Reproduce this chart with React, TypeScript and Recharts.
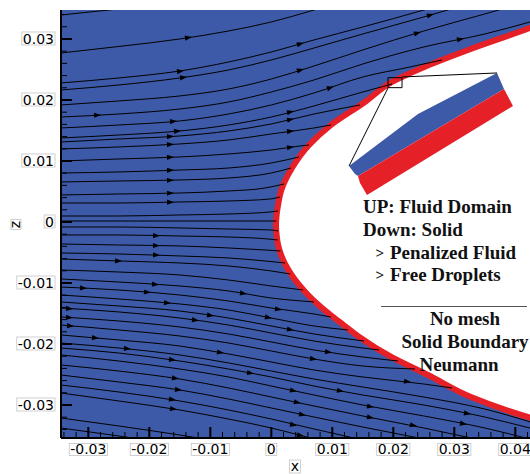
import React from 'react';
import { ComposedChart, Scatter, XAxis, YAxis, CartesianGrid } from 'recharts';

const BLUE = '#3d5aa8';
const RED = '#e62027';

const X_DOMAIN: [number, number] = [-0.03448, 0.04241];
const Z_DOMAIN: [number, number] = [-0.03541, 0.03475];

const xMajorTicks = [-0.03, -0.02, -0.01, 0, 0.01, 0.02, 0.03, 0.04];
const xTickLabels = ['-0.03', '-0.02', '-0.01', '0', '0.01', '0.02', '0.03', '0.04'];
const xAllTicks = [
  -0.034, -0.032, -0.03, -0.028, -0.026, -0.024, -0.022, -0.02, -0.018, -0.016, -0.014, -0.012, -0.01,
  -0.008, -0.006, -0.004, -0.002, 0, 0.002, 0.004, 0.006, 0.008, 0.01, 0.012, 0.014, 0.016, 0.018, 0.02,
  0.022, 0.024, 0.026, 0.028, 0.03, 0.032, 0.034, 0.036, 0.038, 0.04, 0.042,
];
const zMajorTicks = [-0.03, -0.02, -0.01, 0, 0.01, 0.02, 0.03];
const zTickLabels = ['-0.03', '-0.02', '-0.01', '0', '0.01', '0.02', '0.03'];
const zAllTicks = [
  -0.034, -0.032, -0.03, -0.028, -0.026, -0.024, -0.022, -0.02, -0.018, -0.016, -0.014, -0.012, -0.01,
  -0.008, -0.006, -0.004, -0.002, 0, 0.002, 0.004, 0.006, 0.008, 0.01, 0.012, 0.014, 0.016, 0.018, 0.02,
  0.022, 0.024, 0.026, 0.028, 0.03, 0.032, 0.034,
];

type P = [number, number];

// body surface (centre of the red layer), top to bottom
const bodyOutline: P[] = [
  [0.04487, 0.03279], [0.04257, 0.03189], [0.03225, 0.0282], [0.0247, 0.02525], [0.01979, 0.02295],
  [0.01536, 0.01967], [0.00979, 0.0159], [0.00618, 0.01262], [0.00339, 0.00885], [0.00159, 0.00508],
  [0.00111, 0.00279], [0.00087, 0.00115], [0.00077, -0.00049], [0.00087, -0.00213], [0.00111, -0.00377],
  [0.00161, -0.00541], [0.00234, -0.00705], [0.00333, -0.00869], [0.00456, -0.01033], [0.00603, -0.01197],
  [0.00775, -0.01361], [0.00972, -0.01525], [0.01185, -0.01689], [0.01441, -0.01885], [0.01966, -0.02213],
  [0.02569, -0.02508], [0.03274, -0.02869], [0.04257, -0.03213], [0.04487, -0.03279],
];

const upperTrajectories: P[][] = [
  [[-0.0345, 0.03393], [-0.025, 0.03492], [-0.015, 0.0359]],
  [[-0.0345, 0.0277], [-0.025, 0.02877], [-0.015, 0.03], [-0.007, 0.03131], [0, 0.03279], [0.007, 0.03475], [0.015, 0.03721]],
  [[-0.0345, 0.02279], [-0.025, 0.02361], [-0.015, 0.02475], [-0.007, 0.02623], [0, 0.02787], [0.007, 0.02984], [0.015, 0.03197], [0.025, 0.03475], [0.035, 0.0377]],
  [[-0.0345, 0.02164], [-0.025, 0.02246], [-0.015, 0.02361], [-0.007, 0.02492], [0, 0.02656], [0.007, 0.02852], [0.015, 0.03082], [0.025, 0.03361], [0.035, 0.03656]],
  [[-0.0345, 0.01918], [-0.025, 0.01984], [-0.015, 0.02066], [-0.007, 0.0218], [0, 0.02344], [0.007, 0.02557], [0.015, 0.0282], [0.025, 0.03131], [0.035, 0.0341], [0.043, 0.03639]],
  [[-0.0345, 0.01721], [-0.025, 0.0177], [-0.015, 0.01852], [-0.007, 0.01967], [0, 0.02131], [0.007, 0.02328], [0.015, 0.0259], [0.025, 0.02869], [0.035, 0.03082], [0.043, 0.03295]],
  [[-0.0345, 0.01541], [-0.025, 0.0159], [-0.015, 0.01656], [-0.007, 0.0177], [0, 0.01918], [0.007, 0.02115], [0.015, 0.02377], [0.02274, 0.02541], [0.02798, 0.02656]],
  [[-0.0345, 0.01377], [-0.025, 0.01426], [-0.015, 0.01492], [-0.007, 0.0159], [0, 0.01721], [0.007, 0.01902], [0.015, 0.02131], [0.01979, 0.02262]],
  [[-0.0345, 0.01311], [-0.025, 0.01361], [-0.015, 0.0141], [-0.007, 0.01492], [0, 0.01607], [0.007, 0.0177], [0.01454, 0.01918]],
  [[-0.0345, 0.01197], [-0.025, 0.0123], [-0.015, 0.01279], [-0.007, 0.01344], [0, 0.01443], [0.007, 0.01541], [0.00979, 0.0159]],
  [[-0.0345, 0.01], [-0.025, 0.01033], [-0.015, 0.01066], [-0.007, 0.01115], [0, 0.0118], [0.0047, 0.01246], [0.00618, 0.01262]],
  [[-0.0345, 0.00803], [-0.025, 0.0082], [-0.015, 0.00852], [-0.007, 0.00885], [0, 0.00967], [0.00454, 0.01066]],
  [[-0.0345, 0.00656], [-0.025, 0.00672], [-0.015, 0.00689], [-0.007, 0.00721], [0, 0.00803], [0.00323, 0.00885]],
  [[-0.0345, 0.00443], [-0.025, 0.00459], [-0.015, 0.00475], [-0.007, 0.00508], [-0.00103, 0.00557], [0.00208, 0.00623]],
  [[-0.0345, 0.00311], [-0.025, 0.00311], [-0.015, 0.00328], [-0.007, 0.00344], [-0.0002, 0.00377], [0.00143, 0.0041]],
  [[-0.0345, 0.00098], [-0.025, 0.00098], [-0.015, 0.00115], [-0.007, 0.00131], [-0.0002, 0.00164], [0.0011, 0.0018]],
  [[-0.0345, 0.00016], [-0.015, 0.00016], [0.0008, 0.00016]],
];

const lowerTrajectories: P[][] = [
  [[-0.0345, -0.00082], [-0.025, -0.00082], [-0.015, -0.00098], [-0.007, -0.00115], [0, -0.00131], [0.0011, -0.00148]],
  [[-0.0345, -0.00213], [-0.025, -0.00213], [-0.015, -0.0023], [-0.007, -0.00246], [-0.00054, -0.00279], [0.00106, -0.00295]],
  [[-0.0345, -0.00361], [-0.025, -0.00377], [-0.015, -0.00393], [-0.007, -0.00426], [-0.00103, -0.00459], [0.0015, -0.00475]],
  [[-0.0345, -0.00508], [-0.025, -0.00525], [-0.015, -0.00557], [-0.007, -0.0059], [-0.00103, -0.00639], [0.00225, -0.00672]],
  [[-0.0345, -0.00607], [-0.025, -0.00639], [-0.015, -0.00672], [-0.007, -0.00721], [0, -0.00803], [0.0031, -0.00852]],
  [[-0.0345, -0.00787], [-0.025, -0.0082], [-0.015, -0.00869], [-0.007, -0.00951], [0, -0.01049], [0.0052, -0.01115]],
  [[-0.0345, -0.00934], [-0.025, -0.00984], [-0.015, -0.01049], [-0.007, -0.01131], [0, -0.01246], [0.007, -0.01311]],
  [[-0.0345, -0.01066], [-0.025, -0.01115], [-0.015, -0.01197], [-0.007, -0.01295], [0, -0.0141], [0.007, -0.01508], [0.00977, -0.01557]],
  [[-0.0345, -0.01197], [-0.025, -0.01262], [-0.015, -0.01344], [-0.007, -0.01443], [0, -0.01574], [0.007, -0.01705], [0.01257, -0.0177]],
  [[-0.0345, -0.01311], [-0.025, -0.01377], [-0.015, -0.01459], [-0.007, -0.01574], [0, -0.01705], [0.007, -0.01836], [0.0152, -0.01951]],
  [[-0.0345, -0.0141], [-0.025, -0.01475], [-0.015, -0.01574], [-0.007, -0.01689], [0, -0.0182], [0.007, -0.01951], [0.015, -0.02066], [0.01766, -0.02098]],
  [[-0.0345, -0.01557], [-0.025, -0.01623], [-0.015, -0.01721], [-0.007, -0.01836], [0, -0.01967], [0.007, -0.02098], [0.015, -0.02213], [0.02077, -0.02279]],
  [[-0.0345, -0.01689], [-0.025, -0.0177], [-0.015, -0.01869], [-0.007, -0.01984], [0, -0.02115], [0.007, -0.02246], [0.015, -0.02361], [0.02356, -0.0241]],
  [[-0.0345, -0.01852], [-0.025, -0.01934], [-0.015, -0.02033], [-0.007, -0.02164], [0, -0.02295], [0.007, -0.02426], [0.015, -0.02541], [0.025, -0.02656], [0.02962, -0.02721]],
  [[-0.0345, -0.01984], [-0.025, -0.02066], [-0.015, -0.0218], [-0.007, -0.02311], [0, -0.02443], [0.007, -0.02574], [0.015, -0.02705], [0.025, -0.02869], [0.035, -0.03066], [0.043, -0.03295]],
  [[-0.0345, -0.02066], [-0.025, -0.02148], [-0.015, -0.02279], [-0.007, -0.0241], [0, -0.02541], [0.007, -0.02689], [0.015, -0.02836], [0.025, -0.03], [0.035, -0.03197], [0.043, -0.03393]],
  [[-0.0345, -0.0218], [-0.025, -0.02279], [-0.015, -0.0241], [-0.007, -0.02541], [0, -0.02689], [0.007, -0.02836], [0.015, -0.03], [0.025, -0.0318], [0.035, -0.03377], [0.043, -0.03574]],
  [[-0.0345, -0.02344], [-0.025, -0.02443], [-0.015, -0.02574], [-0.007, -0.02721], [0, -0.02869], [0.007, -0.03016], [0.015, -0.0318], [0.025, -0.03377], [0.035, -0.0359]],
  [[-0.0345, -0.02508], [-0.025, -0.02623], [-0.015, -0.02754], [-0.007, -0.02902], [0, -0.03049], [0.007, -0.03197], [0.015, -0.03361], [0.025, -0.03557]],
  [[-0.0345, -0.02672], [-0.025, -0.02787], [-0.015, -0.02934], [-0.007, -0.03082], [0, -0.0323], [0.007, -0.03393], [0.015, -0.03574]],
  [[-0.0345, -0.02803], [-0.025, -0.02934], [-0.015, -0.03082], [-0.007, -0.0323], [0, -0.03377], [0.007, -0.03557]],
  [[-0.0345, -0.03213], [-0.025, -0.03344], [-0.015, -0.03492], [-0.007, -0.03623]],
  [[-0.0345, -0.03377], [-0.025, -0.03508], [-0.015, -0.03656]],
];

// arrow heads: x, z, direction (deg, screen)
const arrowHeads: [number, number, number][] = [
  [-0.01366, 0.03021, -9], [0.0047, 0.0292, -16], [0.02602, 0.0339, -16], [-0.01497, 0.0247, -7],
  [-0.01448, 0.02369, -8], [0.02389, 0.03095, -17], [-0.02857, 0.01752, -3], [0.03093, 0.02995, -12],
  [-0.01611, 0.01648, -5], [-0.01546, 0.01489, -5], [-0.01661, 0.01402, -3], [-0.01661, 0.0127, -3],
  [-0.01661, 0.01061, -2], [-0.01661, 0.00848, -2], [-0.01661, 0.00685, -1], [-0.01661, 0.00472, -1],
  [-0.01661, 0.00325, 0], [0.00307, 0.01802, -14], [0.00307, 0.01679, -13], [0.00307, 0.01487, -8],
  [0.00307, 0.01223, -8], [0.0047, 0.02489, -17], [0.00962, 0.022, -18],
  [-0.02513, -0.00639, 2], [-0.03087, -0.01084, 3], [-0.03316, -0.0142, 4], [-0.03316, -0.01567, 4],
  [-0.033, -0.01702, 5], [-0.0289, -0.019, 5], [-0.02366, -0.02077, 5], [-0.0189, -0.00223, 1],
  [-0.0189, -0.00387, 2], [-0.0189, -0.00541, 2], [-0.01907, -0.01023, 4], [-0.02038, -0.01152, 5],
  [-0.0171, -0.01326, 5], [-0.01005, -0.0153, 8], [-0.01251, -0.01608, 8], [-0.00841, -0.02139, 9],
  [-0.01628, -0.02259, 7], [-0.00349, -0.02475, 10], [-0.01579, -0.02562, 7], [-0.0153, -0.02749, 7],
  [-0.01628, -0.0291, 8], [0.00356, -0.02764, 12], [0.01126, -0.02767, 10], [0.00684, -0.02243, 9],
  [-0.00464, -0.01169, 9], [0.0011, -0.0143, 10], [-0.00054, -0.01564, 11], [0.00307, -0.01762, 10],
  [0.0093, -0.02131, 8], [0.01618, -0.03025, 11], [-0.01611, -0.03064, 8], [0.00503, -0.03157, 12],
  [0.00421, -0.02957, 12], [0.00356, -0.03325, 13], [0.0047, -0.03498, 14], [0.01618, -0.03203, 11],
  [0.02323, -0.03333, 11], [0.03143, -0.03307, 11], [0.03208, -0.03139, 11], [0.02225, -0.02616, 7],
];

// inset (zoom of the wall layers)
const insetBlue: P[] = [[0.01274, 0.00918], [0.02405, 0.0177], [0.037, 0.02443], [0.03815, 0.0218], [0.01421, 0.00754], [0.01372, 0.00787]];
const insetRed: P[] = [[0.01421, 0.00754], [0.03815, 0.0218], [0.03962, 0.01902], [0.01569, 0.00443], [0.01454, 0.00639]];
const insetBox: P[] = [[0.01913, 0.02366], [0.02143, 0.02366], [0.02143, 0.02202], [0.01913, 0.02202], [0.01913, 0.02366]];
const insetLeaderTop: P[] = [[0.02143, 0.02377], [0.037, 0.02443]];
const insetLeaderBottom: P[] = [[0.01913, 0.02197], [0.01274, 0.00918]];

const annotationLines = ['UP: Fluid Domain', 'Down: Solid', 'Penalized Fluid', 'Free Droplets'];
const boundaryLines = ['No mesh', 'Solid Boundary', 'Neumann'];

const toRows = (pts: P[]) => pts.map(([x, z]) => ({ x, z }));
const arrowRows = arrowHeads.map(([x, z, a]) => ({ x, z, a }));

const NoShape = () => <g />;

const ArrowShape = (props: any) => {
  const { cx, cy, payload } = props;
  if (cx == null || cy == null) return <g />;
  return (
    <polygon
      points={`${cx + 4},${cy} ${cx - 3},${cy - 2.6} ${cx - 3},${cy + 2.6}`}
      fill="#000"
      transform={`rotate(${payload.a},${cx},${cy})`}
    />
  );
};

const charW = (s: string) =>
  s.split('').reduce((w, c) => w + (c === '.' ? 4.45 : c === '-' ? 5.05 : 8.9), 0);

const majorIndex = (v: number, majors: number[]) => majors.findIndex((m) => Math.abs(m - v) < 1e-9);

const XTick = (props: any) => {
  const { x, y, payload } = props;
  const idx = majorIndex(payload.value, xMajorTicks);
  const major = idx >= 0;
  const label = major ? xTickLabels[idx] : '';
  const w = charW(label);
  return (
    <g>
      <line x1={x} y1={y - 1} x2={x} y2={y - (major ? 11 : 6)} stroke="#000" strokeWidth={major ? 2 : 1} />
      {major && (
        <g>
          <rect x={x - w / 2 - 1} y={y + 5.5} width={w + 2} height={12} fill="#fff" stroke="#c4c4c4" strokeWidth={0.8} />
          <text x={x} y={y + 16.3} textAnchor="middle" fontFamily="DejaVu Sans" fontSize={14} fill="#000">
            {label}
          </text>
        </g>
      )}
    </g>
  );
};

const ZTick = (props: any) => {
  const { x, y, payload } = props;
  const idx = majorIndex(payload.value, zMajorTicks);
  const major = idx >= 0;
  const label = major ? zTickLabels[idx] : '';
  const w = charW(label);
  return (
    <g>
      <line x1={x + 1} y1={y} x2={x + (major ? 11 : 6)} y2={y} stroke="#000" strokeWidth={major ? 2 : 1} />
      {major && (
        <g>
          <rect x={x - 7 - w - 1} y={y - 7} width={w + 2} height={13} fill="#fff" stroke="#c4c4c4" strokeWidth={0.8} />
          <text x={x - 7} y={y + 5} textAnchor="end" fontFamily="DejaVu Sans" fontSize={14} fill="#000">
            {label}
          </text>
        </g>
      )}
    </g>
  );
};

const serif = { fontFamily: 'Liberation Serif', fontWeight: 700, fontSize: 19, fill: '#111' } as const;

export default function App() {
  return (
    <div style={{ position: 'absolute', left: 0, top: 0, width: 530, height: 474, background: '#fff', overflow: 'hidden' }}>
      <ComposedChart width={530} height={474} margin={{ top: 10, right: 0, bottom: 0, left: 0 }}>
        <CartesianGrid fill={BLUE} fillOpacity={1} horizontal={false} vertical={false} />
        <Scatter
          data={toRows(bodyOutline)}
          line={{ stroke: RED, strokeWidth: 6, fill: '#ffffff' }}
          lineJointType="monotoneY"
          shape={NoShape}
          isAnimationActive={false}
        />
        {upperTrajectories.map((t, i) => (
          <Scatter
            key={`u${i}`}
            data={toRows(t)}
            line={{ stroke: '#000', strokeWidth: 1 }}
            lineJointType="monotoneX"
            shape={NoShape}
            isAnimationActive={false}
          />
        ))}
        {lowerTrajectories.map((t, i) => (
          <Scatter
            key={`l${i}`}
            data={toRows(t)}
            line={{ stroke: '#000', strokeWidth: 1 }}
            lineJointType="monotoneX"
            shape={NoShape}
            isAnimationActive={false}
          />
        ))}
        <Scatter data={arrowRows} shape={ArrowShape} isAnimationActive={false} />
        <Scatter data={toRows(insetBlue)} line={{ stroke: 'none', fill: BLUE }} shape={NoShape} isAnimationActive={false} />
        <Scatter data={toRows(insetRed)} line={{ stroke: 'none', fill: RED }} shape={NoShape} isAnimationActive={false} />
        <Scatter data={toRows(insetBox)} line={{ stroke: '#000', strokeWidth: 1, fill: 'none' }} shape={NoShape} isAnimationActive={false} />
        <Scatter data={toRows(insetLeaderTop)} line={{ stroke: '#000', strokeWidth: 1 }} shape={NoShape} isAnimationActive={false} />
        <Scatter data={toRows(insetLeaderBottom)} line={{ stroke: '#000', strokeWidth: 1 }} shape={NoShape} isAnimationActive={false} />
        <XAxis
          type="number"
          dataKey="x"
          domain={X_DOMAIN}
          ticks={xAllTicks}
          interval={0}
          allowDataOverflow
          height={36}
          tickSize={0}
          tickMargin={0}
          tickLine={false}
          axisLine={{ stroke: '#000', strokeWidth: 2 }}
          tick={(p: any) => <XTick {...p} />}
        />
        <YAxis
          type="number"
          dataKey="z"
          domain={Z_DOMAIN}
          ticks={zAllTicks}
          interval={0}
          allowDataOverflow
          width={61}
          tickSize={0}
          tickMargin={0}
          tickLine={false}
          axisLine={{ stroke: '#000', strokeWidth: 2 }}
          tick={(p: any) => <ZTick {...p} />}
        />
      </ComposedChart>
      <svg width={530} height={474} style={{ position: 'absolute', left: 0, top: 0, pointerEvents: 'none' }}>
        <rect x={289.5} y={460} width={11} height={13} fill="#fff" stroke="#c4c4c4" strokeWidth={0.8} />
        <text x={295} y={471} textAnchor="middle" fontFamily="DejaVu Sans" fontSize={14} fill="#000">x</text>
        <rect x={11} y={219.5} width={10} height={10} fill="#fff" stroke="#c4c4c4" strokeWidth={0.8} />
        <text x={16} y={224.5} dy={4} textAnchor="middle" fontFamily="DejaVu Sans" fontSize={14} fill="#000" transform="rotate(-90,16,224.5)">z</text>

        <text x={363} y={213} {...serif}>{annotationLines[0]}</text>
        <text x={363} y={235.5} {...serif}>{annotationLines[1]}</text>
        <text x={375.5} y={257.5} {...serif} fontSize={15}>&gt;</text>
        <text x={390} y={258.5} {...serif}>{annotationLines[2]}</text>
        <text x={375.5} y={280} {...serif} fontSize={15}>&gt;</text>
        <text x={390} y={281} {...serif}>{annotationLines[3]}</text>
        <line x1={381} y1={306.5} x2={527} y2={306.5} stroke="#555" strokeWidth={1} />
        <text x={465} y={324.5} textAnchor="middle" {...serif}>{boundaryLines[0]}</text>
        <text x={465} y={347.5} textAnchor="middle" {...serif}>{boundaryLines[1]}</text>
        <text x={459} y={371} textAnchor="middle" {...serif}>{boundaryLines[2]}</text>
      </svg>
    </div>
  );
}
